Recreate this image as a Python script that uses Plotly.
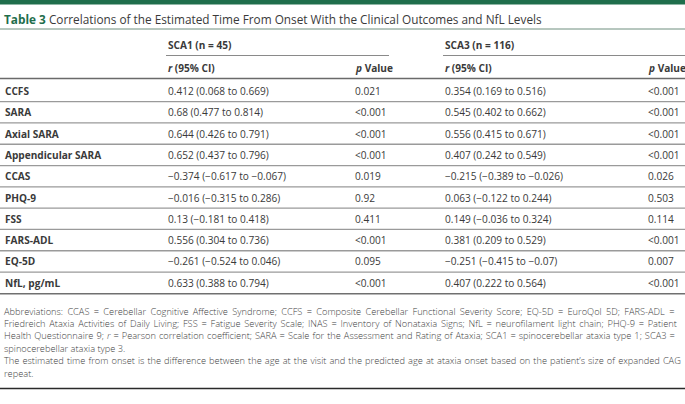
import plotly.graph_objects as go

# ---- data ----
title_label = "Table 3"
title_text = "Correlations of the Estimated Time From Onset With the Clinical Outcomes and NfL Levels"
groups = ["SCA1 (n = 45)", "SCA3 (n = 116)"]
col_heads = ["<i>r</i> (95% CI)", "<i>p</i> Value"]
outcomes = ["CCFS", "SARA", "Axial SARA", "Appendicular SARA", "CCAS", "PHQ-9", "FSS",
            "FARS-ADL", "EQ-5D", "NfL, pg/mL"]
sca1_r = ["0.412 (0.068 to 0.669)", "0.68 (0.477 to 0.814)", "0.644 (0.426 to 0.791)",
          "0.652 (0.437 to 0.796)", "−0.374 (−0.617 to −0.067)", "−0.016 (−0.315 to 0.286)",
          "0.13 (−0.181 to 0.418)", "0.556 (0.304 to 0.736)", "−0.261 (−0.524 to 0.046)",
          "0.633 (0.388 to 0.794)"]
sca1_p = ["0.021", "<0.001", "<0.001", "<0.001", "0.019", "0.92", "0.411", "<0.001", "0.095", "<0.001"]
sca3_r = ["0.354 (0.169 to 0.516)", "0.545 (0.402 to 0.662)", "0.556 (0.415 to 0.671)",
          "0.407 (0.242 to 0.549)", "−0.215 (−0.389 to −0.026)", "0.063 (−0.122 to 0.244)",
          "0.149 (−0.036 to 0.324)", "0.381 (0.209 to 0.529)", "−0.251 (−0.415 to −0.07)",
          "0.407 (0.222 to 0.564)"]
sca3_p = ["<0.001", "<0.001", "<0.001", "<0.001", "0.026", "0.503", "0.114", "<0.001", "0.007", "<0.001"]
footnotes = [
    "Abbreviations: CCAS = Cerebellar Cognitive Affective Syndrome; CCFS = Composite Cerebellar Functional Severity Score; EQ-5D = EuroQol 5D; FARS-ADL =",
    "Friedreich Ataxia Activities of Daily Living; FSS = Fatigue Severity Scale; INAS = Inventory of Nonataxia Signs; NfL = neurofilament light chain; PHQ-9 = Patient",
    "Health Questionnaire 9; <i>r</i> = Pearson correlation coefficient; SARA = Scale for the Assessment and Rating of Ataxia; SCA1 = spinocerebellar ataxia type 1; SCA3 =",
    "spinocerebellar ataxia type 3.",
    "The estimated time from onset is the difference between the age at the visit and the predicted age at ataxia onset based on the patient's size of expanded CAG",
    "repeat.",
]

# ---- layout constants ----
W, H = 685, 404
FONT = "Open Sans"
TXT = "#3a3a3a"
GREEN = "#1f6e4c"
x_label, x_r1, x_p1, x_r3, x_p3 = 3, 166, 353, 443, 646
row_y0, row_h = 91, 21.3
BODY = 10.1
# extra word spacing (px) per footnote line, to mimic the justified block
foot_ws = [1.9, 1.35, 0.6, 0, 0.68, 0]

fig = go.Figure()
fig.update_xaxes(range=[0, W], visible=False, fixedrange=True)
fig.update_yaxes(range=[H, 0], visible=False, fixedrange=True)

ann = []
shapes = []

def text(x, y, s, size=BODY, color=TXT, anchor="left", weight=None):
    f = dict(family=FONT, size=size, color=color)
    if weight:
        f["weight"] = weight
    ann.append(dict(x=x, y=y, xref="x", yref="y", text=s, showarrow=False,
                    xanchor=anchor, yanchor="middle", align="left", font=f))

def hline(x0, x1, y, color="#9a9a9a", width=1):
    shapes.append(dict(type="line", xref="x", yref="y", x0=x0, x1=x1, y0=y, y1=y,
                       line=dict(color=color, width=width)))

# top green bar
shapes.append(dict(type="rect", xref="x", yref="y", x0=0, x1=W, y0=0, y1=4.5,
                   fillcolor=GREEN, line=dict(width=0)))
# title
text(2, 18.5, f"<b><span style='color:{GREEN}'>{title_label}</span></b> {title_text}", size=11.8)
hline(0, W, 29, color="#6f8f7f", width=1)

# group headers
text(x_r1, 44.5, f"<b>{groups[0]}</b>")
text(x_r3, 44.5, f"<b>{groups[1]}</b>")
hline(x_r1, 389, 55.5, color="#8a8a8a", width=1.2)
hline(x_r3, W, 55.5, color="#8a8a8a", width=1.2)

# column headers
for xr, xp in [(x_r1, x_p1), (x_r3, x_p3)]:
    text(xr, 67.5, f"<b>{col_heads[0]}</b>")
    text(xp, 67.5, f"<b>{col_heads[1]}</b>")
hline(0, W, 78.5, color="#6a6a6a", width=1.3)

# rows
for i, name in enumerate(outcomes):
    y = row_y0 + i * row_h
    text(x_label, y, f"<b>{name}</b>")
    text(x_r1, y, sca1_r[i])
    text(x_p1, y, sca1_p[i].replace("<", "&lt;"))
    text(x_r3, y, sca3_r[i])
    text(x_p3, y, sca3_p[i].replace("<", "&lt;"))
    if i < len(outcomes) - 1:
        hline(0, W, y + row_h / 2, color="#9a9a9a", width=1.3)
hline(0, W, row_y0 + (len(outcomes) - 0.5) * row_h + 0.5, color="#707070", width=1.5)

# footnotes
for j, line in enumerate(footnotes):
    s = line.replace("'", "’")
    if foot_ws[j]:
        s = f"<span style='word-spacing:{foot_ws[j]}px'>{s}</span>"
    text(2, 311 + j * 12.4, s, size=9.25, color="#3f3f3f", weight=300)
hline(0, W, 388.5, color="#2a2a2a", width=1.5)

fig.update_layout(width=W, height=H, margin=dict(l=0, r=0, t=0, b=0),
                  paper_bgcolor="white", plot_bgcolor="white",
                  annotations=ann, shapes=shapes, showlegend=False)
fig.write_html("out.html", config={"displayModeBar": False})

# remove default page margin so the figure sits at the window's corner
with open("out.html", encoding="utf-8") as f:
    html = f.read()
html = html.replace("<head>", "<head><style>html,body{margin:0;padding:0;overflow:hidden;}</style>", 1)
with open("out.html", "w", encoding="utf-8") as f:
    f.write(html)
